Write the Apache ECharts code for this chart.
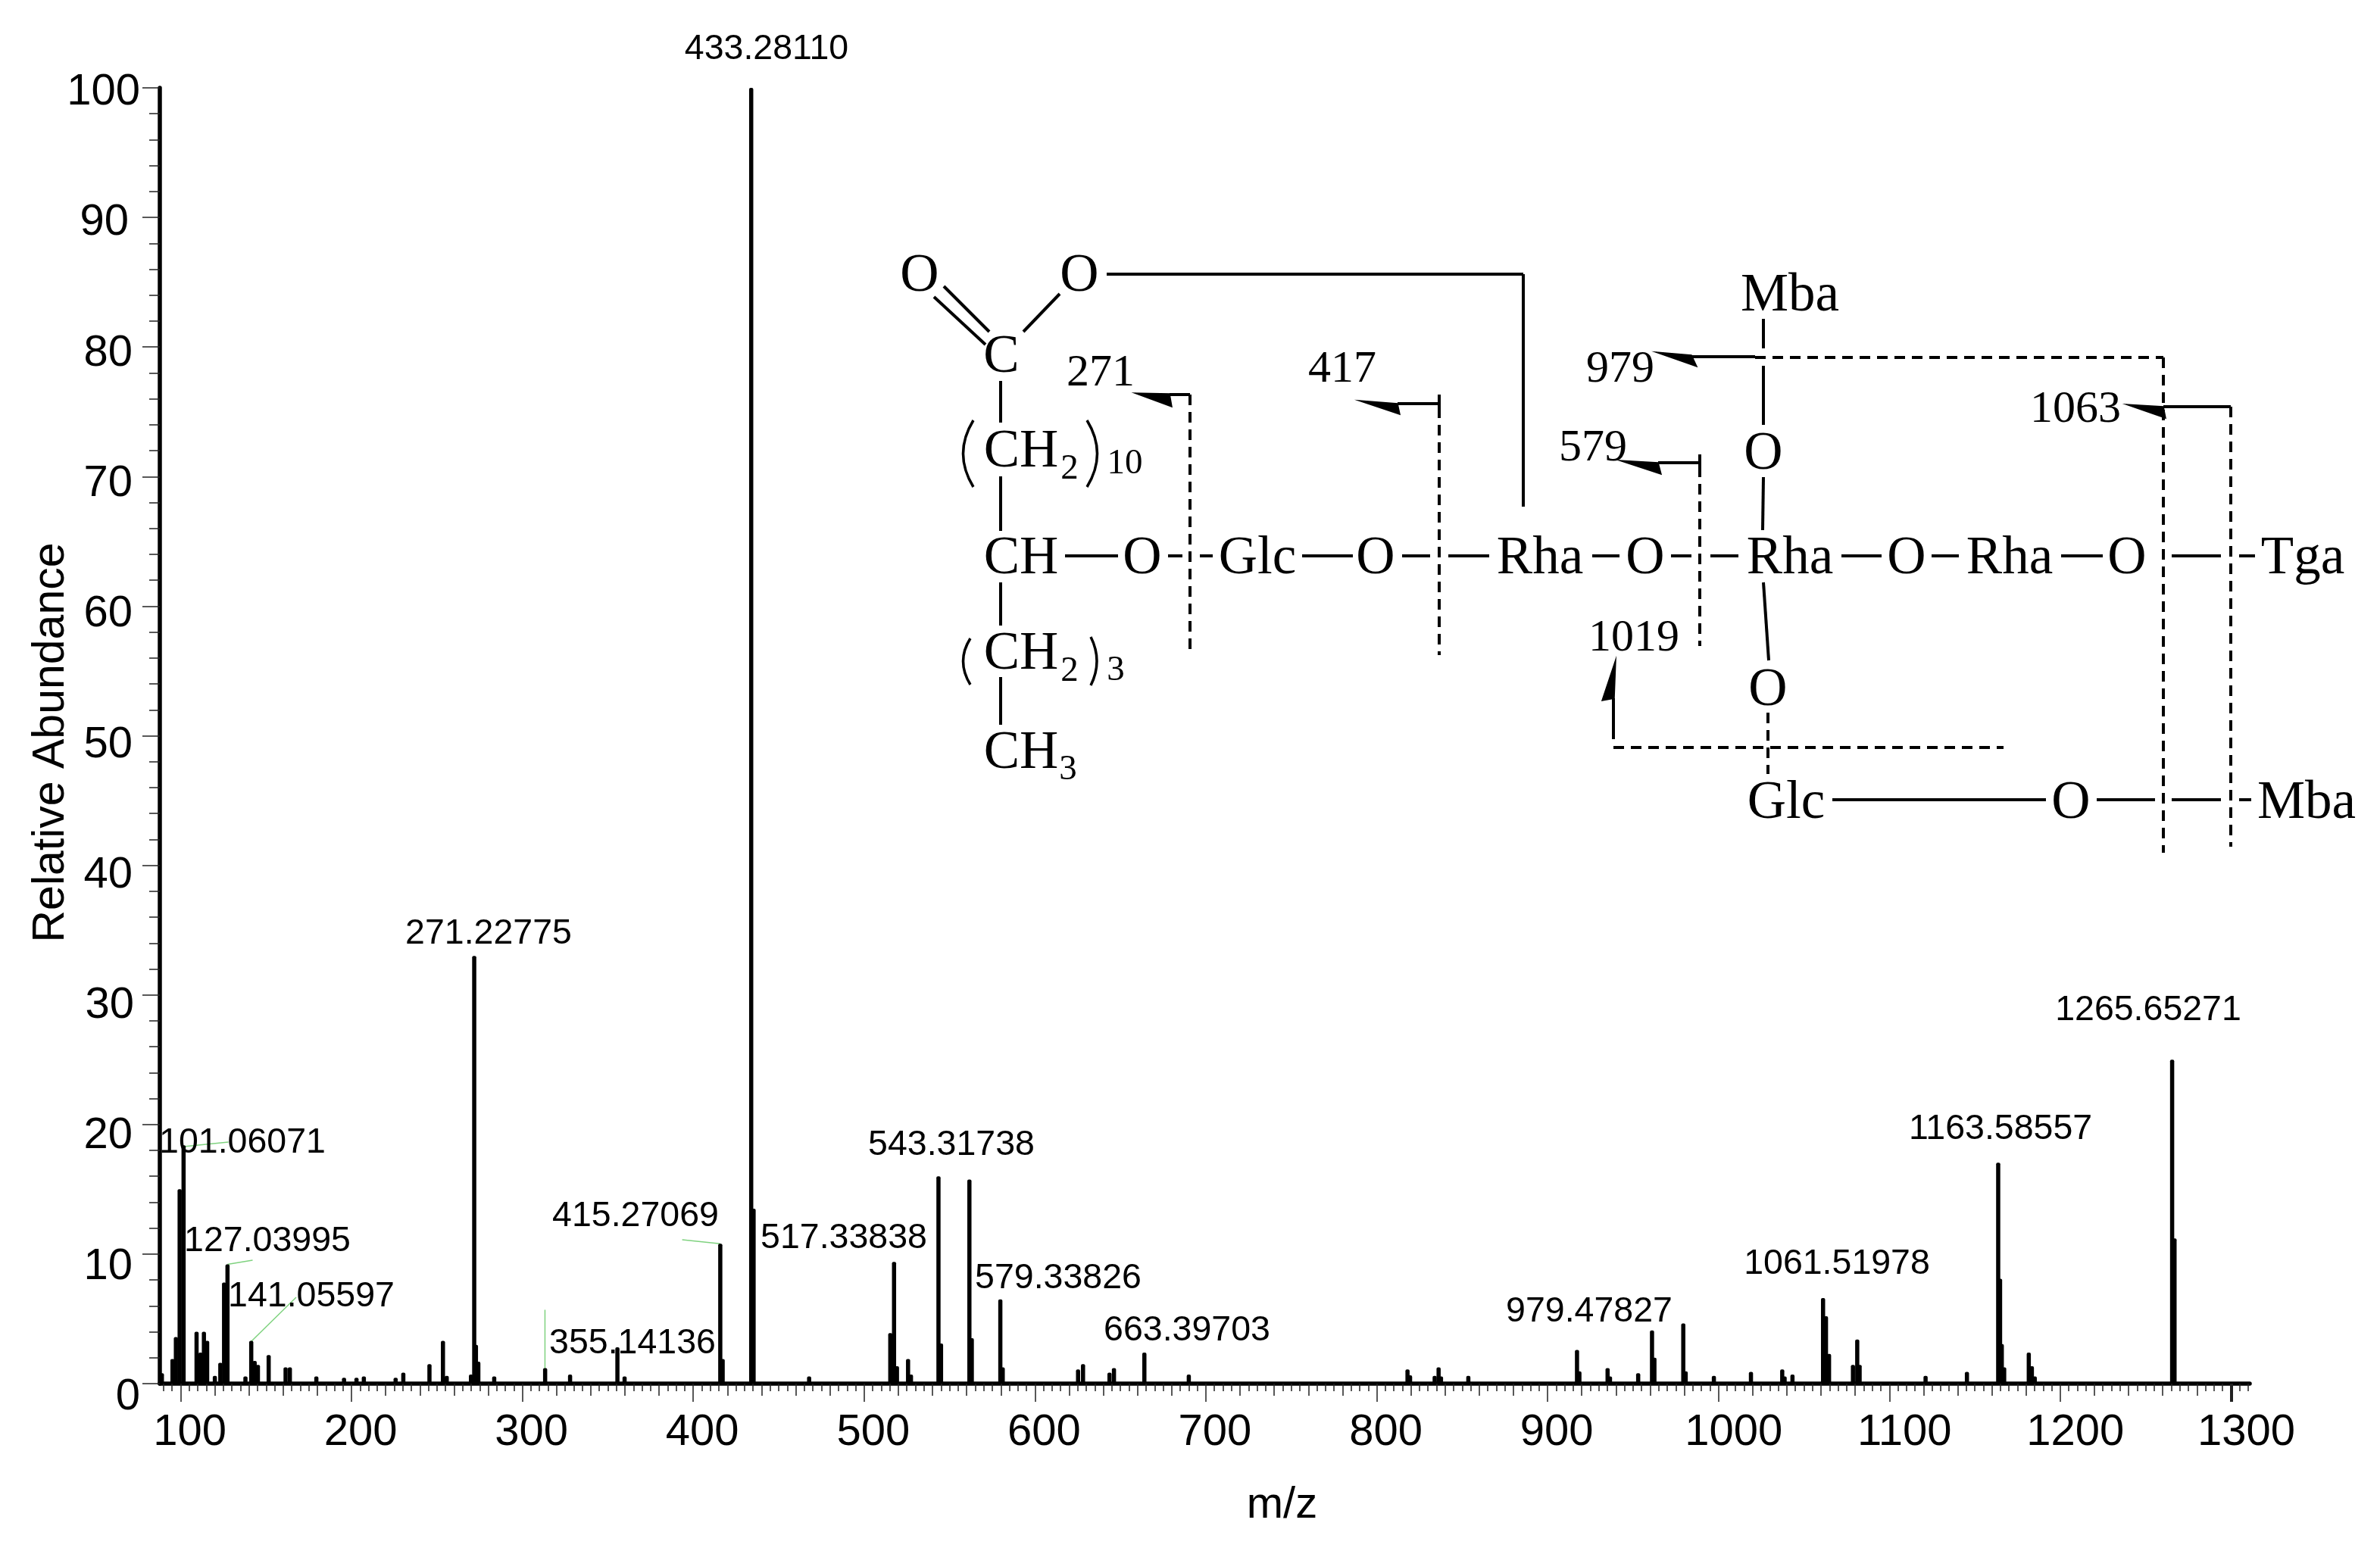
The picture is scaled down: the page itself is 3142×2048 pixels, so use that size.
<!DOCTYPE html>
<html>
<head>
<meta charset="utf-8">
<script src="https://cdn.jsdelivr.net/npm/echarts@6/dist/echarts.min.js"></script>
<style>
  html, body { margin: 0; padding: 0; background: #fff; }
  #main { width: 3142px; height: 2048px; }
</style>
</head>
<body>
<div id="main"></div>
<script>
// peaks
var peakMz = [
  89, 95.2, 97.2, 99.4, 101.7, 109.3, 111.6, 113.6, 115.5, 120, 123.2, 125.4, 127.4, 137.9, 141.3, 143.3,
  145.2, 151.5, 161.4, 163.9, 179.4, 195.6, 202.9, 207.2, 225.8, 230.3, 245.6, 253.5, 255.7, 269.9, 271.8,
  272.8, 274.2, 283.5, 313.3, 327.9, 355.6, 359.8, 415.8, 417.2, 433.9, 435.3, 467.8, 515.3, 517.5, 519.2,
  525.7, 527.4, 543.5, 545, 561.6, 563, 579.7, 581.1, 625.2, 628.1, 643.6, 646.2, 664, 690, 818, 819.5,
  833.9, 836.2, 837.6, 853.6, 917.2, 918.6, 935.1, 936.5, 953, 961.1, 962.5, 979.4, 980.8, 997.3, 1019,
  1037.3, 1038.7, 1043.3, 1061.2, 1062.9, 1064.7, 1078.7, 1081.2, 1082.6, 1121.2, 1145.4, 1163.7, 1164.8,
  1165.8, 1167.2, 1181.6, 1183.4, 1185.1, 1265.5, 1266.9
];
var peakInt = [
  0.8, 1.9, 3.6, 15, 18.4, 4, 2.4, 4, 3.3, 0.6, 1.6, 7.8, 9.2, 0.55, 3.3, 1.75,
  1.45, 2.2, 1.25, 1.25, 0.55, 0.45, 0.45, 0.55, 0.45, 0.85, 1.5, 3.3, 0.6, 0.7, 33,
  3, 1.7, 0.55, 1.2, 0.7, 2.8, 0.55, 10.8, 1.9, 100, 13.5, 0.55, 3.9, 9.4, 1.35,
  1.9, 0.7, 16, 3.1, 15.75, 3.5, 6.5, 1.25, 1.1, 1.5, 0.85, 1.2, 2.4, 0.7, 1.1, 0.65,
  0.6, 1.25, 0.55, 0.6, 2.6, 0.95, 1.2, 0.55, 0.8, 4.1, 2, 4.65, 0.95, 0.6, 0.9,
  1.1, 0.55, 0.7, 6.6, 5.2, 2.3, 1.45, 3.4, 1.45, 0.6, 0.9, 17.05, 8.1,
  3.05, 1.25, 2.4, 1.35, 0.55, 25, 11.2
];
var peakLabels = [
  "433.28110", "271.22775", "101.06071", "127.03995", "141.05597", "355.14136", "415.27069", "517.33838",
  "543.31738", "579.33826", "663.39703", "979.47827", "1061.51978", "1163.58557", "1265.65271"
];
// green leaders [mz1, int1, mz2, int2]
var leaders = [
  [101.7, 18.3, 128, 18.65],
  [127.4, 9.2, 142.1, 9.53],
  [141.3, 3.26, 167.6, 6.66],
  [313.2, 1.17, 313.2, 5.7],
  [415.8, 10.8, 393.5, 11.1]
];
var xTicks = [100, 200, 300, 400, 500, 600, 700, 800, 900, 1000, 1100, 1200, 1300];
var yTicks = [0, 10, 20, 30, 40, 50, 60, 70, 80, 90, 100];
var xMin = 87.8, xMax = 1310.9;

// where things sit on the page
var labelPos = [
  [1012, 65], [645, 1233], [320, 1509], [353, 1639], [411, 1712], [835, 1774], [839, 1606], [1114, 1635],
  [1256, 1512], [1397, 1688], [1567, 1757], [2098, 1732], [2425, 1669], [2641, 1491], [2836, 1334]
];
// y label gap on the right
var yGap = { 0: 0, 10: 10, 20: 10, 30: 8, 40: 10, 50: 10, 60: 10, 70: 10, 80: 10, 90: 15, 100: 0 };

// structure drawing
var FS = 71, FN = 60, FSUB = 47;
var structText = [
  ["O", 1214, 365, FS], ["O", 1425, 365, FS], ["C", 1322, 472, FS],
  ["271", 1453, 493, FN], ["417", 1772, 488, FN],
  ["CH", 1348, 597, FS], ["2", 1412, 620, FSUB], ["10", 1485, 613, FSUB],
  ["CH", 1348, 738, FS], ["O", 1508, 738, FS], ["Glc", 1660, 738, FS], ["O", 1816, 738, FS],
  ["Rha", 2033, 738, FS], ["O", 2172, 738, FS], ["Rha", 2363, 738, FS], ["O", 2517, 738, FS],
  ["Rha", 2653, 738, FS], ["O", 2808, 738, FS], ["Tga", 3040, 738, FS],
  ["CH", 1348, 864, FS], ["2", 1412, 887, FSUB], ["3", 1473, 886, FSUB],
  ["CH", 1348, 995, FS], ["3", 1410, 1017, FSUB],
  ["Mba", 2363, 391, FS], ["979", 2139, 488, FN], ["1063", 2740, 541, FN], ["579", 2103, 592, FN],
  ["O", 2328, 600, FS], ["1019", 2157, 843, FN], ["O", 2334, 912, FS],
  ["Glc", 2358, 1061, FS], ["O", 2734, 1061, FS], ["Mba", 3045, 1061, FS]
];
var solidLines = [
  [1233, 392, 1301, 455], [1246, 378, 1306, 438], [1351, 438, 1399, 388],
  [1461, 362, 2011, 362], [2011, 362, 2011, 669],
  [1321, 503, 1321, 558], [1321, 629, 1321, 701], [1321, 769, 1321, 826], [1321, 894, 1321, 957],
  [1406, 734, 1476, 734], [1542, 734, 1561, 734], [1584, 734, 1601, 734], [1719, 734, 1786, 734],
  [1851, 734, 1888, 734], [1912, 734, 1966, 734], [2102, 734, 2138, 734], [2206, 734, 2233, 734],
  [2258, 734, 2295, 734], [2431, 734, 2484, 734], [2550, 734, 2586, 734], [2721, 734, 2776, 734],
  [2867, 734, 2932, 734], [2956, 734, 2977, 734],
  [1544, 521, 1571, 521], [1845, 533, 1900, 533], [1900, 521, 1900, 538],
  [2328, 421, 2328, 460], [2328, 483, 2328, 561], [2328, 630, 2327, 700], [2328, 769, 2335, 872],
  [2233, 471, 2317, 471], [2856, 537, 2945, 537], [2189, 611, 2244, 611], [2244, 600, 2244, 616],
  [2130, 976, 2130, 922],
  [2419, 1056, 2701, 1056], [2768, 1056, 2845, 1056], [2867, 1056, 2932, 1056], [2956, 1056, 2972, 1056]
];
var dashedLines = [
  [1571, 521, 1571, 858], [1900, 538, 1900, 865],
  [2317, 472, 2856, 472], [2856, 472, 2856, 1126], [2945, 537, 2945, 1118], [2244, 616, 2244, 853],
  [2130, 987, 2645, 987], [2334, 941, 2334, 1022]
];
var arrowHeads = [
  [[1498, 519], [1547, 537], [1544, 520]],
  [[1794, 529], [1848, 547], [1845, 533]],
  [[2186, 465], [2240, 484], [2233, 469]],
  [[2807, 534], [2859, 552], [2856, 537]],
  [[2138, 608], [2193, 626], [2189, 611]],
  [[2133, 871], [2115, 925], [2131, 922]]
];
var parens = [
  [1285, 555, 1258, 599, 1285, 643], [1435, 555, 1462, 599, 1435, 643],
  [1281, 843, 1262, 873, 1281, 904], [1440, 841, 1456, 873, 1440, 905]
];

var SANS = '"Liberation Sans", Arial, sans-serif';
var SERIF = '"Liberation Serif", "Times New Roman", serif';

function range(from, to, step) {
  var out = [];
  for (var v = from; v <= to; v += step) {
    out.push(v);
  }
  return out;
}

var myChart = echarts.init(document.getElementById("main"));

var gfx = [];
// peak labels
for (var i = 0; i < peakLabels.length; i++) {
  gfx.push({
    type: "text", x: labelPos[i][0], y: labelPos[i][1], z: 20,
    style: { text: peakLabels[i], font: '46.5px ' + SANS, fill: "#000", align: "center", verticalAlign: "middle" }
  });
}
structText.forEach(function (t) {
  gfx.push({
    type: "text", x: t[1], y: t[2], z: 30,
    style: { text: t[0], font: t[3] + 'px ' + SERIF, fill: "#000", align: "center", verticalAlign: "middle" }
  });
});
solidLines.forEach(function (l) {
  gfx.push({
    type: "line", z: 30,
    shape: { x1: l[0], y1: l[1], x2: l[2], y2: l[3] },
    style: { stroke: "#000", lineWidth: 4 }
  });
});
dashedLines.forEach(function (l) {
  gfx.push({
    type: "line", z: 30,
    shape: { x1: l[0], y1: l[1], x2: l[2], y2: l[3] },
    style: { stroke: "#000", lineWidth: 4, lineDash: [14, 9] }
  });
});
arrowHeads.forEach(function (a) {
  gfx.push({ type: "polygon", z: 30, shape: { points: a }, style: { fill: "#000", stroke: "#000", lineWidth: 1.5 } });
});
parens.forEach(function (p) {
  gfx.push({
    type: "bezierCurve", z: 30,
    shape: { x1: p[0], y1: p[1], cpx1: p[2], cpy1: p[3], x2: p[4], y2: p[5] },
    style: { stroke: "#000", lineWidth: 3.5, fill: "none" }
  });
});

// rich styles, that's how the tick labels get pushed off their ticks like in the original
var xRich = {
  d3: { padding: [0, 0, 0, 24], fontSize: 58, fontFamily: SANS, color: "#000" },
  d4: { padding: [0, 0, 0, 40], fontSize: 58, fontFamily: SANS, color: "#000" }
};
var yRich = {};
yTicks.forEach(function (v) {
  yRich["v" + v] = { padding: [0, yGap[v], 0, 0], fontSize: 58, fontFamily: SANS, color: "#000" };
});

// three levels of ticks on m/z, each level is its own axis
function tickAxis(values, len, width) {
  return {
    type: "value", position: "bottom", min: xMin, max: xMax,
    axisLine: { show: false },
    splitLine: { show: false },
    axisLabel: { show: false },
    axisTick: { show: true, customValues: values, length: len, lineStyle: { color: "#222", width: width } }
  };
}

var leaderSeries = leaders.map(function (l) {
  return {
    type: "line",
    data: [[l[0], l[1]], [l[2], l[3]]],
    symbol: "none",
    silent: true,
    z: 5,
    lineStyle: { color: "#7fd27f", width: 1.5 }
  };
});

var option = {
  animation: false,
  backgroundColor: "#fff",
  // second grid only carries the y tick labels, they run on a slightly longer scale than the ticks
  grid: [
    { left: 211, right: 172, top: 116, bottom: 221, containLabel: false },
    { left: 211, right: 172, top: 122, bottom: 203, containLabel: false }
  ],
  xAxis: [
    {
      type: "value", position: "bottom", min: xMin, max: xMax,
      name: "m/z",
      nameLocation: "middle",
      nameGap: 132,
      nameTextStyle: { fontSize: 58, fontFamily: SANS, color: "#000", padding: [0, 0, 0, 204] },
      axisLine: { show: true, onZero: false, lineStyle: { color: "#000", width: 5.5 } },
      splitLine: { show: false },
      axisTick: { show: true, customValues: xTicks.slice(0, 12), length: 24, lineStyle: { color: "#222", width: 1.5 } },
      axisLabel: {
        show: true,
        customValues: xTicks,
        margin: 36,
        hideOverlap: false,
        formatter: function (v) {
          return (v >= 1000 ? "{d4|" : "{d3|") + v + "}";
        },
        rich: xRich
      }
    },
    tickAxis(range(100, 1300, 20), 16, 1.5),
    tickAxis(range(90, 1310, 5), 10, 1.5),
    tickAxis([1300], 24, 4),
    { type: "value", gridIndex: 1, show: false, min: xMin, max: xMax }
  ],
  yAxis: [
    {
      type: "value", min: 0, max: 100, interval: 10,
      name: "Relative Abundance",
      nameLocation: "middle",
      nameGap: 114,
      nameRotate: 90,
      nameMoveOverlap: false,
      nameTextStyle: { fontSize: 59, fontFamily: SANS, color: "#000", padding: [0, 18, 0, 0] },
      axisLine: { show: true, lineStyle: { color: "#000", width: 5.5 } },
      splitLine: { show: false },
      axisTick: { show: true, length: 23, lineStyle: { color: "#222", width: 1.5 } },
      minorTick: { show: true, splitNumber: 5, length: 14, lineStyle: { color: "#222", width: 1.5 } },
      axisLabel: { show: false }
    },
    {
      type: "value", gridIndex: 1, min: 0, max: 100, interval: 10,
      axisLine: { show: false },
      axisTick: { show: false },
      splitLine: { show: false },
      axisLabel: {
        margin: 26,
        showMinLabel: true,
        showMaxLabel: true,
        formatter: function (v) {
          return "{v" + v + "|" + v + "}";
        },
        rich: yRich
      }
    }
  ],
  series: [
    {
      type: "bar",
      name: "peaks",
      data: peakMz.map(function (m, i) { return [m, peakInt[i]]; }),
      barWidth: 5.5,
      z: 6,
      itemStyle: { color: "#000", borderRadius: [2, 2, 0, 0] }
    }
  ].concat(leaderSeries),
  graphic: gfx
};
myChart.setOption(option);
</script>
</body>
</html>
